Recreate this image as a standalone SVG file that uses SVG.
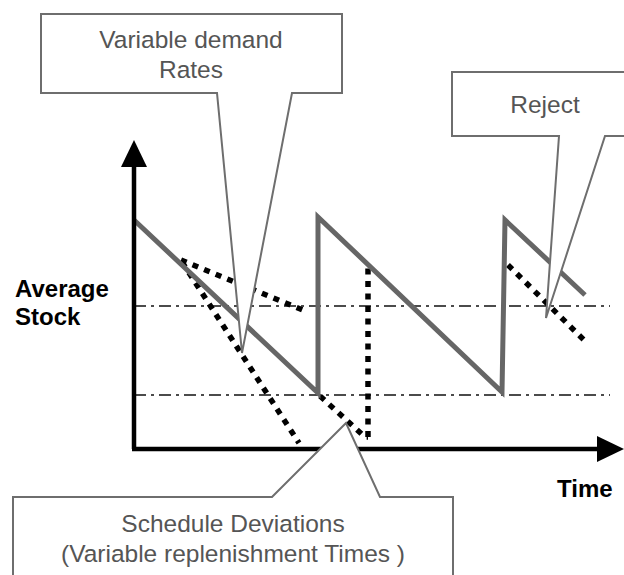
<svg xmlns="http://www.w3.org/2000/svg" width="624" height="575" viewBox="0 0 624 575">
<style>
.ref{fill:none;stroke:#111;stroke-width:1.6;stroke-dasharray:12 5 3 5}
.dot{fill:none;stroke:#000;stroke-width:5.5;stroke-dasharray:6 6.5}
.saw{fill:none;stroke:#666;stroke-width:5;stroke-linejoin:miter}
.axis{fill:none;stroke:#000;stroke-width:4.5}
.call{fill:#fff;stroke:#6e6e6e;stroke-width:2}
.ct{font-family:"Liberation Sans",Arial,sans-serif;font-size:24.5px;fill:#555;text-anchor:middle}
.lbl{font-family:"Liberation Sans",Arial,sans-serif;font-size:24px;font-weight:bold;fill:#000}
</style>
<defs>
<marker id="ah" viewBox="0 0 10 10" refX="0" refY="5" markerWidth="6" markerHeight="6" orient="auto">
<path d="M0,0 L10,5 L0,10 Z" fill="#000"/>
</marker>
</defs>
<rect width="624" height="575" fill="#fff"/>
<g id="connectors">
<line class="ref" x1="134" y1="306" x2="610" y2="306"/>
<line class="ref" x1="134" y1="395" x2="610" y2="395"/>
<line class="dot" x1="181" y1="260" x2="305" y2="311"/>
<line class="dot" x1="182" y1="262" x2="299" y2="443"/>
<polyline class="dot" points="320,396 365,437 368,437"/>
<line class="dot" x1="368" y1="437" x2="368" y2="263"/>
<line class="dot" x1="508" y1="265" x2="584" y2="340"/>
<polyline class="saw" points="134,220 318,393 318,217 502,392 505,220 585,295"/>
</g>
<g id="axes">
<line class="axis" x1="134" y1="449" x2="134" y2="167"/>
<polygon points="134,140 121,167 147,167" fill="#000"/>
<line class="axis" x1="132" y1="449" x2="598" y2="449"/>
<polygon points="624,449 597,436 597,462" fill="#000"/>
<text class="lbl" x="15" y="297">Average</text>
<text class="lbl" x="15" y="325">Stock</text>
<text class="lbl" x="557" y="497">Time</text>
</g>
<g id="callout-demand">
<polygon class="call" points="41,14 342,14 342,93 292,93 242,353 217,93 41,93"/>
<text class="ct" x="191" y="48">Variable demand</text>
<text class="ct" x="191" y="78">Rates</text>
</g>
<g id="callout-reject">
<polygon class="call" points="452,72 640,72 640,136 605,136 546,318 559,136 452,136"/>
<text class="ct" x="545" y="113">Reject</text>
</g>
<g id="callout-schedule">
<polygon class="call" points="13,497 272,497 346,423 380,497 453,497 453,590 13,590"/>
<text class="ct" x="233" y="532">Schedule Deviations</text>
<text class="ct" x="233" y="562">(Variable replenishment Times )</text>
</g>
</svg>
